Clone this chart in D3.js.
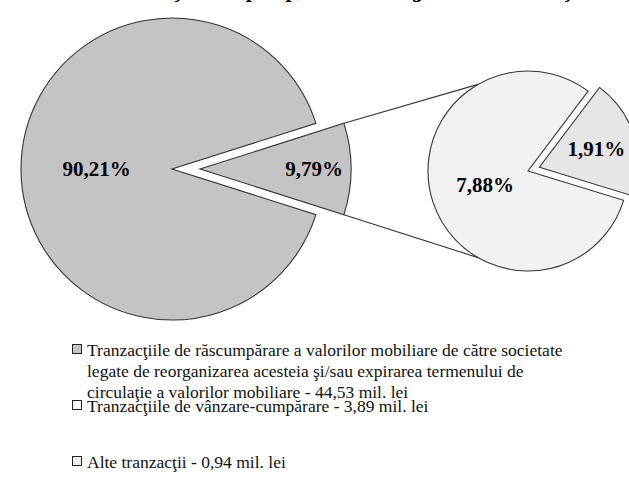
<!DOCTYPE html>
<html><head><meta charset="utf-8">
<script src="https://cdn.jsdelivr.net/npm/d3@7"></script>
<style>html,body{margin:0;padding:0;background:#fff;} svg{display:block;}</style>
</head><body>
<script>
// ---- data ----
const categories = [
  "Tranzacţiile de răscumpărare a valorilor mobiliare de către societate legate de reorganizarea acesteia şi/sau expirarea termenului de circulaţie a valorilor mobiliare",
  "Tranzacţiile de vânzare-cumpărare",
  "Alte tranzacţii"
];
const values = [44.53, 3.89, 0.94];
const valueLabels = ["44,53 mil. lei", "3,89 mil. lei", "0,94 mil. lei"];
const primaryLabels = ["9,79%", "90,21%"];   // [split-off slice, main slice]
const secondaryLabels = ["1,91%", "7,88%"];  // [other, sale-purchase]
const legendLines = [
  ["Tranzacţiile de răscumpărare a valorilor mobiliare de către societate",
   "legate de reorganizarea acesteia şi/sau expirarea termenului de",
   "circulaţie a valorilor mobiliare - 44,53 mil. lei"],
  ["Tranzacţiile de vânzare-cumpărare - 3,89 mil. lei"],
  ["Alte tranzacţii - 0,94 mil. lei"]
];
const titleText = "Structura tranzacţiilor după tip, în volumul global al tranzacţiilor";

// ---- layout ----
const W = 629, H = 478;
const FONT = "Liberation Serif";
const colors = ["#c4c4c4", "#f2f2f2", "#e6e6e6"];
const stroke = "#333";

const svg = d3.select("body").append("svg").attr("width", W).attr("height", H);

// title (mostly cut off at the top)
svg.append("text").attr("x", 312).attr("y", -3).attr("text-anchor", "middle")
  .attr("font-family", FONT).attr("font-weight", "bold").attr("font-style", "italic")
  .attr("font-size", 22).text(titleText);

// primary pie
const total = d3.sum(values);
const otherSum = values[1] + values[2];
const primaryData = [otherSum, values[0]];
const otherSpan = 2 * Math.PI * otherSum / total;
const pStart = Math.PI / 2 - otherSpan / 2;
const primaryArcs = d3.pie().sort(null).startAngle(pStart).endAngle(pStart + 2 * Math.PI)(primaryData);

const pc = {x: 172, y: 169}, pr = 151, pExplode = 28;
const arcP = d3.arc().innerRadius(0).outerRadius(pr);
const gP = svg.append("g").attr("transform", `translate(${pc.x},${pc.y})`);

const dirOf = a => [Math.sin(a), -Math.cos(a)];

primaryArcs.forEach((d, i) => {
  const mid = (d.startAngle + d.endAngle) / 2;
  const off = i === 0 ? pExplode : 0;
  const [dx, dy] = dirOf(mid);
  const g = gP.append("g").attr("transform", `translate(${dx * off},${dy * off})`);
  g.append("path").attr("d", arcP(d)).attr("fill", colors[0])
    .attr("stroke", stroke).attr("stroke-width", 1.1);
  const lr = i === 0 ? pr * 0.755 : pr * 0.5;
  g.append("text").attr("x", dx * lr).attr("y", dy * lr).attr("dy", "0.35em")
    .attr("text-anchor", "middle").attr("font-family", FONT).attr("font-weight", "bold")
    .attr("font-size", 21).text(primaryLabels[i]);
});

// secondary pie
const sc = {x: 528, y: 171}, sr = 100, sExplode = 12;
const secondaryData = [values[2], values[1]];
const sSpan = 2 * Math.PI * values[2] / otherSum;
const sMid = 72 * Math.PI / 180;
const sStart = sMid - sSpan / 2;
const secondaryArcs = d3.pie().sort(null).startAngle(sStart).endAngle(sStart + 2 * Math.PI)(secondaryData);
const arcS = d3.arc().innerRadius(0).outerRadius(sr);
const gS = svg.append("g").attr("transform", `translate(${sc.x},${sc.y})`);
secondaryArcs.forEach((d, i) => {
  const mid = (d.startAngle + d.endAngle) / 2;
  const off = i === 0 ? sExplode : 0;
  const [dx, dy] = dirOf(mid);
  const g = gS.append("g").attr("transform", `translate(${dx * off},${dy * off})`);
  g.append("path").attr("d", arcS(d)).attr("fill", i === 0 ? colors[2] : colors[1])
    .attr("stroke", stroke).attr("stroke-width", 1.1);
  const lr = i === 0 ? sr * 0.6 : sr * 0.45;
  g.append("text").attr("x", dx * lr).attr("y", dy * lr).attr("dy", "0.35em")
    .attr("text-anchor", "middle").attr("font-family", FONT).attr("font-weight", "bold")
    .attr("font-size", 21).text(secondaryLabels[i]);
});

// connector lines
const oArc = primaryArcs[0];
const [ox, oy] = dirOf((oArc.startAngle + oArc.endAngle) / 2);
const oc = {x: pc.x + ox * pExplode, y: pc.y + oy * pExplode};
const connAngles = [330 * Math.PI / 180, 210 * Math.PI / 180];
[oArc.startAngle, oArc.endAngle].forEach((a, i) => {
  const [ax, ay] = dirOf(a);
  const [bx, by] = dirOf(connAngles[i]);
  svg.append("line")
    .attr("x1", oc.x + ax * pr).attr("y1", oc.y + ay * pr)
    .attr("x2", sc.x + bx * sr).attr("y2", sc.y + by * sr)
    .attr("stroke", stroke).attr("stroke-width", 1.1);
});

// legend
const legendBaselines = [[356, 377, 398], [412], [468]];
const legendFill = [colors[0], "#ffffff", "#f2f2f2"];
const lg = svg.append("g");
const texts = [];
legendLines.forEach((lines, i) => {
  const y0 = legendBaselines[i][0];
  lg.append("rect").attr("x", 72.5).attr("y", y0 - 11.5).attr("width", 9).attr("height", 9)
    .attr("fill", legendFill[i]).attr("stroke", "#222").attr("stroke-width", 1);
  lines.forEach((t, j) => {
    texts.push(lg.append("text").attr("x", 87).attr("y", legendBaselines[i][j])
      .attr("font-family", FONT).attr("font-size", 17).attr("fill", "#111").text(t));
  });
});
// fit the first legend line width to the reference (~476px)
const w0 = texts[0].node().getComputedTextLength();
const fs = Math.min(18, 17 * 476 / w0);
texts.forEach(t => t.attr("font-size", fs));
</script>
</body></html>
